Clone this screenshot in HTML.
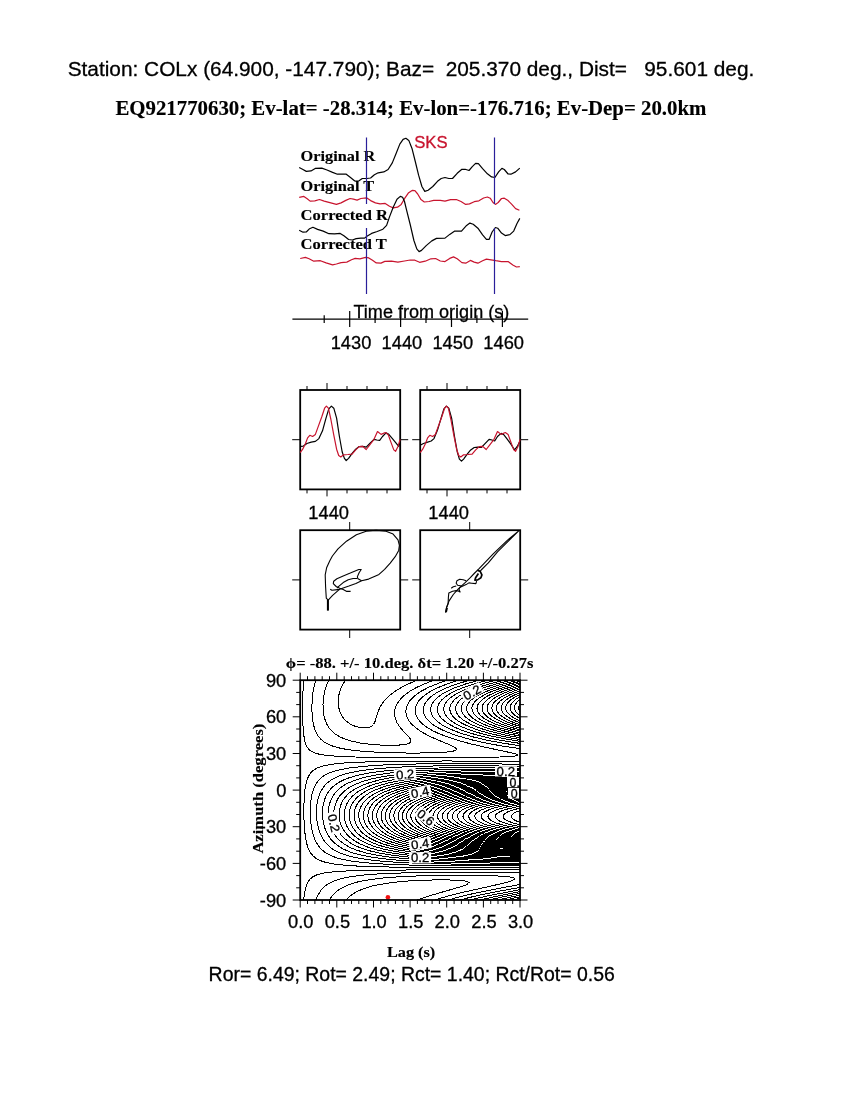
<!DOCTYPE html><html><head><meta charset="utf-8"><title>Shear-wave splitting COLx</title><style>html,body{margin:0;padding:0;background:#fff}svg{display:block}text{white-space:pre}</style></head><body>
<svg width="850" height="1100" viewBox="0 0 850 1100">
<rect width="850" height="1100" fill="#fff"/>
<text x="67.7" y="76.1" font-size="20.83" font-family="'Liberation Sans',sans-serif" stroke="#000" stroke-width="0.3" xml:space="preserve" >Station: COLx (64.900, -147.790); Baz=  205.370 deg., Dist=   95.601 deg.</text>
<text x="115.4" y="115.2" font-size="20.83" font-family="'Liberation Serif',serif" font-weight="bold" stroke="#000" stroke-width="0.15" xml:space="preserve" >EQ921770630; Ev-lat= -28.314; Ev-lon=-176.716; Ev-Dep= 20.0km</text>
<g id="seis">
<text x="300.6" y="161" font-size="15" font-family="'Liberation Serif',serif" font-weight="bold" textLength="74.8" lengthAdjust="spacingAndGlyphs" stroke="#000" stroke-width="0.15" xml:space="preserve" >Original R</text>
<text x="300.6" y="191.2" font-size="15" font-family="'Liberation Serif',serif" font-weight="bold" textLength="73.6" lengthAdjust="spacingAndGlyphs" stroke="#000" stroke-width="0.15" xml:space="preserve" >Original T</text>
<text x="300.6" y="219.6" font-size="15" font-family="'Liberation Serif',serif" font-weight="bold" textLength="87.4" lengthAdjust="spacingAndGlyphs" stroke="#000" stroke-width="0.15" xml:space="preserve" >Corrected R</text>
<text x="300.6" y="249.4" font-size="15" font-family="'Liberation Serif',serif" font-weight="bold" textLength="86.2" lengthAdjust="spacingAndGlyphs" stroke="#000" stroke-width="0.15" xml:space="preserve" >Corrected T</text>
<path d="M299.2 167.5l3.3 1.8 3.8 2.1 4.7-0.5 4.2-2.5 6.6-0.3 5.2 1.9 5.6 2.4 4.8 1.8 8.9 0 4.2 3.3 4.3 3.5 4.2-0.2 3.3-2.3 4.6 0 3.7-0.5 3.8-3.3 3.8-1.9 5.6-0.9 4.3-2.4 4.2-6.6 3.8-9.4 3.7-9.4 3.3-4.7 2.8-1.1 2.9 2.1 3.3 8.4 3.3 13.2 3.2 13.2 3.3 11.3 2.9 4.9 3.3-1.2 4.7-3.7 4.7-5.2 3.7-2.8 3.8-1 3.8 1 3.7 0 4.7-5.2 4.7-4 3.3 0 3.8 1.2 3.3-3.8 3.3-3.3 2.8 0.3 4.2 4.9 4.8 5.2 4.2 3.1 3.3 0.6 3.7-5.6 3.3-3.5 2.4 1.1 3.8 4.5 2.8 0.2 4.7-2.3 4.2-3.8" fill="none" stroke="#000" stroke-width="1.2" stroke-linejoin="round" />
<path d="M299.2 197.3l4.7-0.9 3.3 2.3 2.9 2.4 4.7-0.3 4.7-1.3 4.7 1.6 6.6 1.8 5.6 1.5 4.7-1.5 4.7-2.5 4.3-1.9 3.3 0.7 3.7 0.9 3.8-1.6 5.6-0.7 4.1 2.8 4.8 2.3 4.7 1 5.1-0.5 4.3 2.8 3.7 1.7 4.3-0.7 3.7-2.8 3.3-5.7 3.8-5.6 3.8-2.7 2.8 0.3 2.8 3.3 3.3 5.6 3.3 2.4 4.7-0.5 4.7-1.1 6.6 0 4.7 0.7 5.6-1.5 5.7-0.1 4.7 2 4.7 2.9 3.8-0.5 4.7-2.2 4.7-0.9 4.7-2.8 3.8-1 2.8 1.2 2.8 4.3 2.4 1.9 2.8-1.9 3.3-4 2.8-0.3 3.8 2.4 3.7 3.8 3.8 4.2 3.8 1.6" fill="none" stroke="#c8142e" stroke-width="1.2" stroke-linejoin="round" />
<path d="M299.2 230.3l3.8 1.9 3.3-0.2 3.3-3.3 3.3-1.4 4.7 2.1 5.6 1.7 5.7 2.6 5.6 0.2 5.7-0.5 3.7 2.4 4.7 3.7 3.8 0.5 3.8-1.4 4.7-0.5 3.7 0 2.3-1.9 4.7-2.8 5.6-1.9 5.7-2.3 3.7-3.8 2.9-8.5 3.7-9.6 3.8-8.1 3.3-2.8 2.3 0.9 1.9 4.2 1.9 7.8 3.8 15.2 3.7 16 2.9 8.4 2.3 2.7 2.4-1.2 4.7-4.8 5.6-4.7 4.7-2.5 8.5-0.3 4.7-3.7 4.7-3.2 7.1-0.1 5.1-5.7 3.3-2.3 3.3 1.2 4.7 3.9 4.7 6.6 3.8 4.5 2.8 0 2.9-7.3 3.3-4.5 2.3 0.7 3.8 4.9 3.7 2.5 4.7-1 3.8-3.5 3.3-7.6 2.8-5.1" fill="none" stroke="#000" stroke-width="1.2" stroke-linejoin="round" />
<path d="M300.2 258.5l5.2-1.1 3.7 1.4 4.7 2.4 6.6-0.5 5.7 2.2 6.5 1.9 3.8-0.8 4.7-1.4 5.7-0.5 4.7-2.3 3.7-1.4 4.7 0.4 5.7-1.4 3.2 0.5 3.7 2.3 3.8 2.7 4.7 0.2 3.8-1.7 6.6-0.2 6.5 0.9 6.6-1.1 5.7-1 4.7 0.2 4.7 2.1 5.6-1.1 5.7-2.4 4.7-0.3 4.7 2.5 4.7 0.6 4.7-3.2 3.8-1.5 3.7 1.9 4.7 3.8 3.8 0.6 4.7-2.8 3.8 1.7 3.7 1.1 4.7-2.5 3.8-1.6 4.7 0.7 4.7 0.9 5.7 0.9 6.6 0 4.7 3.3 3.7 2.1 3.3-0.4" fill="none" stroke="#c8142e" stroke-width="1.2" stroke-linejoin="round" />
<path d="M366.5 137.5V204M366.5 228V294" stroke="#2a1f9a" stroke-width="1.2" fill="none"/>
<path d="M494.5 137.5V204M494.5 228V294" stroke="#2a1f9a" stroke-width="1.2" fill="none"/>
<text x="414.2" y="147.9" font-size="16.67" font-family="'Liberation Sans',sans-serif" fill="#c8142e" stroke="#c8142e" stroke-width="0.3" xml:space="preserve" >SKS</text>
<text x="353.5" y="317.6" font-size="18.06" font-family="'Liberation Sans',sans-serif" stroke="#000" stroke-width="0.3" xml:space="preserve" >Time from origin (s)</text>
<path d="M292.4 319.1H528.2M349.7 311V327M400.6 311V327M451.5 311V327M502.4 311V327M324.2 315.3V323M375.1 315.3V323M426.0 315.3V323M476.9 315.3V323" stroke="#000" stroke-width="1.2" fill="none"/>
<text x="351.0" y="349.1" font-size="18.3" font-family="'Liberation Sans',sans-serif" text-anchor="middle" stroke="#000" stroke-width="0.3" xml:space="preserve" >1430</text>
<text x="401.9" y="349.1" font-size="18.3" font-family="'Liberation Sans',sans-serif" text-anchor="middle" stroke="#000" stroke-width="0.3" xml:space="preserve" >1440</text>
<text x="452.8" y="349.1" font-size="18.3" font-family="'Liberation Sans',sans-serif" text-anchor="middle" stroke="#000" stroke-width="0.3" xml:space="preserve" >1450</text>
<text x="503.7" y="349.1" font-size="18.3" font-family="'Liberation Sans',sans-serif" text-anchor="middle" stroke="#000" stroke-width="0.3" xml:space="preserve" >1460</text>
</g>
<g id="panels">
<rect x="300.2" y="390" width="100.0" height="99.39999999999998" fill="none" stroke="#000" stroke-width="1.8"/>
<rect x="300.2" y="530.2" width="100.0" height="99.39999999999998" fill="none" stroke="#000" stroke-width="1.8"/>
<text x="328.7" y="519" font-size="18.3" font-family="'Liberation Sans',sans-serif" text-anchor="middle" stroke="#000" stroke-width="0.3" xml:space="preserve" >1440</text>
<rect x="420.2" y="390" width="100.00000000000006" height="99.39999999999998" fill="none" stroke="#000" stroke-width="1.8"/>
<rect x="420.2" y="530.2" width="100.00000000000006" height="99.39999999999998" fill="none" stroke="#000" stroke-width="1.8"/>
<text x="448.7" y="519" font-size="18.3" font-family="'Liberation Sans',sans-serif" text-anchor="middle" stroke="#000" stroke-width="0.3" xml:space="preserve" >1440</text>
<path d="M307.0 386.0V390M307.0 489.4V493.4M327.0 383.0V390M327.0 489.4V496.4M347.0 386.0V390M347.0 489.4V493.4M367.0 386.0V390M367.0 489.4V493.4M387.0 386.0V390M387.0 489.4V493.4M292.2 439.7H300.2M400.2 439.7H408.2M292.2 579.9H300.2M400.2 579.9H408.2M349.7 522V530.2M349.7 629.6V638M427.0 386.0V390M427.0 489.4V493.4M447.0 383.0V390M447.0 489.4V496.4M467.0 386.0V390M467.0 489.4V493.4M487.0 386.0V390M487.0 489.4V493.4M507.0 386.0V390M507.0 489.4V493.4M412.2 439.7H420.2M520.2 439.7H528.2M412.2 579.9H420.2M520.2 579.9H528.2M469.7 522V530.2M469.7 629.6V638" stroke="#000" stroke-width="1" fill="none"/>
<path d="M300.2 446.4l3.2-0.3 3.5-2.6 4.3-1.4 4.2-0.7 3.5-2.8 3.6-7.8 3.5-12.7 2.8-9.2 2.6-2.8 2.4 2.1 2.8 9.9 2.8 18.4 2.8 15.5 2.2 6.4 1.8 2.1 2.4-2.1 3.5-5 3.6-4.2 3.5-2.6 3.5-0.2 3.5 0.7 3.6-3.6 4.2-4.2 2.8 0.7 2.9 0.4 2.8-3.9 3.5-3.6 2.8 1.5 3.6 4.2 3.5 4.2 2.8 3.6 1.4-4.3" fill="none" stroke="#000" stroke-width="1.2" stroke-linejoin="round" />
<path d="M300.2 452.7l2.5-3.5 2.8-5.7 2.1-5.6 2.2-2.6 2.8 1.2 2.8-2.1 2.8-7.8 3.6-9.9 2.8-8.5 1.8-2.1 2 2.1 2.5 11.3 2.9 15.6 2.8 14.1 2.1 6.3 2.1 1.4 2.8-2.1 4.3-0.3 4.2-0.4 3.6-4.2 3.5-3.3 3.5-0.2 3.5 3.1 3.6-4.6 4.2-5.6 3.5-7.8 3.6 2.9 4.2-1.9 2.8 1.9 2.8 7.7 2.9 7.8 1.8 1.4 2.4-4.9 2.1-7.1" fill="none" stroke="#c8142e" stroke-width="1.2" stroke-linejoin="round" />
<path d="M420.2 445.2l3.2-1.7 3.5-1.1 4.3-1.4 2.8-2.4 3.5-8.5 3.6-12 2.8-9.2 2.5-2.8 2.4 2.1 2.8 9.9 2.9 18.4 2.8 15.5 2.1 7.1 2.1 2.1 2.1-2.1 3.6-5 3.5-4.2 3.5-2.4 3.6-0.4 3.5 0.4 3.5-3.7 4.3-4.5 2.8 0.7 2.8 1 2.8-4.5 3.6-3.1 2.8 1.4 3.5 4.5 3.5 4.9 3.6 5.7 2.8-3.5 2.8-5.7" fill="none" stroke="#000" stroke-width="1.2" stroke-linejoin="round" />
<path d="M420.2 452.7l2.5-3.5 2.8-5.7 2.1-5.6 2.2-2.6 2.8 1.2 2.8-2.1 2.8-7.8 3.6-9.9 2.8-8.5 1.8-2.1 2 2.1 2.5 11.3 2.9 15.6 2.8 14.1 2.1 6.3 2.1 1.4 2.8-2.1 4.3-0.3 4.2-0.4 3.6-4.2 3.5-3.3 3.5-0.2 3.5 3.1 3.6-4.6 4.2-5.6 3.5-7.8 3.6 2.9 4.2-1.9 2.8 1.9 2.8 7.7 2.9 7.8 1.8 1.4 2.4-4.9 2.1-7.1" fill="none" stroke="#c8142e" stroke-width="1.2" stroke-linejoin="round" />
<path d="M327.9 610.5l0-10.6-1.6-1.8-0.4-6.1-0.3-5.2-0.4-12 1.4-7 3.2-7.1 2.6-4.7 5.6-7.1 8.5-7.7 9.9-6.4 9.8-3.5 9.9-0.9 9.9 0.9 7.1 2.8 4.9 5.7 1.4 5.6-0.7 5-3.5 6.3-5 6.4-5.6 6.3-5.6 5-4 1.8-6.4 2.9-7 1.7-5.7 2.8-7 2.5-5.7 1.8-3.5 1.4-2.1 0.3-5.7 0.7-1.7-1" fill="none" stroke="#000" stroke-width="1.1" stroke-linejoin="round" />
<path d="M361.6 580.8l-3.6-2.1-0.7-1.8 1.8-4.2 2.1-3.2-2.4 0-8.5 3.6-7.1 2.8-6.3 2.8-3.2 2.5-0.4 2.4 2.9 2.9 3.5 1.7 3.5 1.4 3.6 1.8 3.8 0" fill="none" stroke="#000" stroke-width="1.1" stroke-linejoin="round" />
<path d="M357.3 578.5l-4.2 0-4.9 1.3-5 2.8-4.2 3.5-2.1 2.1" fill="none" stroke="#000" stroke-width="1.1" stroke-linejoin="round" />
<path d="M327.9 599.9l1.2-0.7 3.5-3.9 5.7-5 1.4-1" fill="none" stroke="#000" stroke-width="1.1" stroke-linejoin="round" />
<path d="M327.9 610.5l0-10.6" fill="none" stroke="#000" stroke-width="2" stroke-linejoin="round" />
<path d="M445.6 612.2l1-5 2.5-6.3 4.2-6.4 5-5.6 6.3-5.7 5.7-5.6 3.9-4.1 4.9-4.9 14.1-14.8 14.1-13.5 11.4-9.4-21.2 20.9-9.2 11.1-7.1 7.1-1 1.4" fill="none" stroke="#000" stroke-width="1.1" stroke-linejoin="round" />
<path d="M476.6 581.1l-0.7 2.5-4.2-0.4-2.8-0.3-2.8 1.7-4.3 1.8-2.1 1.1-0.7 2.1 1.1 2.4-1.8-1-2.1-0.4-3.6 0.7-3.8 1.8-0.4 4.2-0.3 6.4-1.5 3.9-1 4.6 1-0.7 0.8-3.6" fill="none" stroke="#000" stroke-width="1.1" stroke-linejoin="round" />
<path d="M466.1 580.8l-2.9-1.1-3.5-0.4-2.8 1.5-0.7 2.4 1.4 2.1 4.2 0.7" fill="none" stroke="#000" stroke-width="1.1" stroke-linejoin="round" />
<path d="M451.2 588.2l2.1-1.4 2.9-0.8" fill="none" stroke="#000" stroke-width="1.1" stroke-linejoin="round" />
<path d="M477.4 570.3l2.8 1.1 1.7 3.5-1 2.9-3.2 2.1-2.8 0.3 0.7-2.4 2.8-4.3" fill="none" stroke="#000" stroke-width="1.7" stroke-linejoin="round" />
</g>
<g id="map">
<path shape-rendering="crispEdges" fill="none" stroke="#000" stroke-width="1" d="M346 680l-2.7 3.5-1.9 3.5-1.5 4-1 4-0.6 4.5 0 4.5 0.6 4.1 1.2 3.9 1.6 3.5 2 3 2.7 2.8 3 2.2 3.5 1.9 3.5 1.3 4 1 4 0.3 2.9-0.2 2.5-0.6 2-1.1 1.7-1.6 0.8-1.4 0.7-1.6 2.7-9 2.4-5.5 1.8-3 1.8-2.5 2.6-3 2.6-2.5 5.8-4.5 6.5-4 7.6-3.8 8.8-3.7M417.6 900l7.6-2.7 8-2.6 28.4-8.2 4.2-1.5 2.7-1.5 0.4-0.5 0.1-0.5-0.6-0.5-1.3-0.5-3.5-0.7-9.5-0.7-12.9-0.3-18.5 0.4-17.9 1-15.5 1.7-12.6 2.1-4.9 1.1-5 1.5-4.4 1.6-4.3 1.8-3.7 2-3 2-3 2.5-2.4 2.5M329.2 680l-1.6 3-1.2 2.8-1 3.2-1 3.5-0.6 3.5-0.5 4-0.3 4 0.1 4 0.2 3.5 0.5 3.5 0.7 3 1 3 1 2.5 1.3 2.5 1.6 2.4 1.8 2.1 1.7 1.7 2.2 1.8 4.8 2.9 5.5 2.4 6.5 1.9 8.5 1.8 8.9 1.2 10.5 0.8 10.5 0.3 8.5-0.2 6.5-0.8 2-0.4 2-0.7 1-0.7 0.6-1 0-1.5-1.2-2-7.4-8-3.2-4-2.2-3.5-1.4-3.5-0.5-2-0.4-2.5 0.2-4 0.5-2.5 0.7-2 2.3-4 2.3-3 3-3 3.8-3 4.3-2.9 4.8-2.6 5.7-2.7 6-2.4 6.6-2.4M434.8 900l10.9-3.3 12.9-3.4 45.9-10.3 6.7-2 3-1.5 0.4-0.5 0-0.5-0.6-0.5-1.3-0.5-3.2-0.6-5.5-0.6-16.9-0.9-26-0.3-31.6 0.4-26.7 1-11.5 0.8-10 0.9-9 1.1-7.9 1.3-6.8 1.4-5.7 1.6-5.1 1.9-4.9 2.4-4 2.5-3.1 2.6-2.9 3.1-2.7 3.9M315.8 680l-1.2 4-1 4.5-0.8 5-0.5 5-0.3 5.4-0.1 5.1 0.2 5 0.5 5 0.6 4 0.8 3.5 1 3.1 1.2 2.9 1.3 2.5 1.8 2.5 1.8 2 2.4 2 2.2 1.5 2.7 1.4 6 2.3 7.5 1.9 9.5 1.5 12.5 1.3 14.4 0.9 17.5 0.6 18.4 0.2 18-0.3 13.5-0.7 5-0.5 2.9-0.6 1.6-0.5 0.9-0.5 0.3-0.5 0.1-0.5-0.8-1-2.4-1.5-4.4-2-12.7-5.3-6.5-2.9-6.5-3.5-5.5-3.5-4.6-3.8-2-2-1.6-2-1.3-2-1-2-0.7-2-0.5-2.5 0-2.5 0.3-2.5 0.8-2.5 1-2 1.6-2.5 1.7-2 2-2 2.3-2 5.9-4 7.7-4 8.9-3.6 10-3.4M520 872.5l-22.9-0.4-28 0-28.9 0.1-25.5 0.4-19.4 0.6-16.5 0.7-13.4 1-10.5 1.2-8.5 1.3-7 1.7-6 2.1-5 2.5-4 2.9-2 1.9-1.6 2-2.8 4.5-2.2 5M448.2 900l11.9-3.3 14.5-3.4 15-3.1 30.4-5.8M303.7 680l-0.8 12.5-0.4 15.5 0.3 14.5 0.7 11 1.2 7 0.8 2.9 0.8 2.1 1.2 2 1.1 1.5 1.4 1.3 1.7 1.2 2 1 2.3 0.9 5.5 1.3 7.9 1 10.5 0.7 15 0.6 19.9 0.4 56.9 0.3 41.4-0.2 26.8-0.5 10.1-0.5 4.5-0.4 3.2-0.6 0.3-0.5-0.7-0.5-1.3-0.5-3.9-1-27-5.8-15-3.5-12.5-3.4-9.4-3.1-10-3.9-4.5-2.1-4-2.2-3.5-2.2-3-2.3-2.5-2.3-1.9-2.2-1.7-2.5-1.3-3-0.5-2.5 0-3 0.7-3 1.1-2.5 2-3 2.3-2.5 2.9-2.5 3.6-2.5 3.8-2.3 4.5-2.3 5-2.1 5.5-2.1 6-2.1 7.1-2.1M520 869.7l-84.3 0.1-57.9 0.4-31.7 0.8-10.7 0.7-8 0.8-5.9 1-5 1.5-3.9 2-1.6 1.3-1.2 1.2-1.2 1.5-1.1 2-1.6 4-1.3 5.5-0.9 7.5M459.8 900l10.8-2.8 13-2.9 15.4-3.1 21-3.8M520 748.6l-17-2.4-16.9-3.1-15-3.4-14-4-5.9-2.1-5-1.9-4.5-2.1-4.1-2.1-3.4-2.1-3.3-2.4-2.7-2.5-2.1-2.5-1.5-2.5-1-2.5-0.3-2.5 0.2-3 1-3 1.5-2.5 2-2.5 2.6-2.5 3.1-2.3 3.4-2.2 4.1-2.2 4.9-2.3 5.1-2 5.9-2.1 13.2-3.9M520 867.7l-87.3-0.2-32.4-0.3-24.5-0.4-17.9-0.7-13.5-0.9-10.5-1.2-8-1.6-3.5-1-2.9-1.2-2.5-1.3-2.1-1.4-1.9-1.7-1.6-1.8-1.6-2.5-1.3-2.5-1.1-3-0.9-3.4-1.4-8.1-1-11-0.3-12.5 0.3-11.5 0.8-9.5 1.4-7.5 0.9-3 1-2.5 1.3-2.4 1.5-2 1.6-1.6 1.9-1.4 2-1.2 2.5-1.1 5.9-1.8 8.5-1.4 12-1.2 16-0.8 20.9-0.6 29.4-0.4 35.5-0.1 34.9 0.1 37.9 0.5M470.3 900l9.3-2.3 11.5-2.5 28.9-5.5M520 745.7l-17-2.5-15.9-3-14.5-3.4-12-3.6-9.9-3.9-4.5-2.1-3.9-2.2-3.1-2.1-2.9-2.4-2.1-2.2-1.7-2.3-1.2-2.5-0.6-2.5-0.1-2.5 0.6-2.5 1.1-2.5 1.7-2.5 2.3-2.5 2.4-2 3.5-2.4 3.5-2.1 4.5-2.2 4.9-2.1 11-3.9 13.8-3.8M520 865.9l-36.9 0.1-34.9-0.3-29.5-0.4-23.4-0.7-18.5-0.9-14.9-1.3-12-1.5-9.5-2-4-1.2-4-1.4-3-1.4-3-1.6-2.5-1.8-2.4-2.2-2.2-2.3-1.8-2.5-1.7-3-1.3-3-1.3-3.5-1-4-0.9-4.5-0.5-4.5-0.4-5-0.2-5 0.2-5 0.3-4.5 0.5-4 0.8-4 0.9-3.5 1.1-3 1.5-3 1.5-2.5 2-2.5 2-1.9 2.4-2 2.5-1.5 3-1.5 3-1.1 4-1.3 4-1 10.5-1.9 13.5-1.5 16.4-1.2 21-0.8 24.9-0.5 27.9-0.2 28.5 0.1 37.4 0.6M479.9 900l17.2-3.9 22.9-4.4M520 743.4l-16.5-2.6-14.9-2.9-13.5-3.4-11.5-3.6-4.8-1.9-4.5-2-3.8-2-3.3-2-3-2.2-2.5-2.3-1.7-2-1.5-2.5-0.8-2-0.3-2.5 0.2-2.5 0.9-2.5 1.5-2.5 1.6-2 2.6-2.3 2.9-2.2 3.2-2 3.8-2.1 4.3-1.9 5.2-2.1 11.5-3.8 13.7-3.6M520 864.4l-33.4 0-31-0.3-26.4-0.5-22.9-0.8-18-1.1-15-1.3-12.4-1.8-10.3-2.1-8.2-2.6-3.5-1.4-3.5-1.8-3-1.8-3-2.3-2.2-2.1-2.2-2.5-2-3-1.7-3-1.5-3.5-1.1-3.5-1-4-0.7-4-0.4-4-0.1-4.5 0.1-4 0.4-4 0.7-4 0.9-3.5 1.3-3.5 1.5-3 1.5-2.6 1.9-2.4 2.1-2.2 2.5-2.1 2.6-1.7 2.9-1.6 3.5-1.6 3.5-1.3 4.5-1.4 4.5-1.1 11.5-2.1 13.4-1.6 16-1.3 19.4-0.9 22-0.6 24.9-0.2 25.5 0 36.4 0.5M488.8 900l14.2-3.2 17-3.3M520 741.4l-15.5-2.6-14.4-3-12.5-3.3-10.5-3.5-4.9-2-4.1-2-3.6-2-3-2-2.4-2-2-2-1.5-2-1.2-2.5-0.5-2-0.1-2.5 0.6-2.5 1-2 1.8-2.5 1.9-2 2.4-2 3-2 3.5-2 4-2 9.6-3.8 11.8-3.7 13.8-3.5M520 863l-30.4 0-28.5-0.3-24.9-0.6-21.5-0.9-17.4-1.1-15-1.5-12.5-1.7-10.4-2.2-4.5-1.2-4.6-1.5-3.7-1.5-3.7-1.7-3.1-1.8-2.9-2-2.5-2.1-2.4-2.4-2.1-2.5-1.9-3-1.6-3-1.4-3.5-1.1-3.5-0.8-4-0.4-3.5-0.2-4 0.1-4 0.4-3.5 0.8-3.5 1-3.5 1.3-3 1.6-3 1.8-2.5 1.9-2.3 2.4-2.2 2.6-2 3-1.9 3-1.6 3.5-1.6 4-1.4 9.5-2.6 11.4-2.2 13.5-1.7 15.5-1.4 18.4-1 20.5-0.6 22.4-0.3 24 0 34.9 0.4M497.2 900l22.8-4.8M520 739.5l-15-2.6-13.4-3-11.5-3.2-10-3.6-7.7-3.6-3.4-2-2.8-2-2.2-2-1.7-2-1.3-2-0.9-2.5-0.3-2 0.3-2.5 0.8-2 1.2-2 1.6-2 2.1-2 2.7-2 3.6-2.3 3.4-1.7 4.3-2 9.4-3.5 11.7-3.5 14.2-3.5M520 861.7l-28.4-0.1-27-0.3-23.4-0.7-20.5-0.9-16.9-1.2-14.5-1.4-12.5-1.9-10.6-2.2-9.3-2.8-4-1.5-3.5-1.6-3-1.7-3-1.9-2.6-2-2.7-2.5-2.2-2.5-2.2-3-1.6-3-1.4-3-1-3-0.8-3.5-0.5-3.5-0.2-3.5 0.2-3.5 0.4-3.5 0.9-3.5 1-3 1.5-3 1.5-2.5 1.9-2.5 2.3-2.5 2.3-2 2.8-2 2.9-1.8 3.5-1.7 7.6-3 9.3-2.6 11.5-2.2 13-1.8 15.5-1.4 17.4-1.1 19-0.7 21.4-0.3 22.5-0.1 33.4 0.3M505.1 900l14.9-3.2M520 737.8l-14-2.6-12.4-3-11.1-3.2-9.2-3.5-6.9-3.5-3.1-2-2.6-2-2-2-1.5-2-1-2-0.5-2 0-2 0.4-2 0.8-2 1.4-2 1.8-2 2.3-2 2.9-2 3.4-2 7.6-3.5 9.8-3.5 11.9-3.5 14.5-3.5M520 860.5l-26.9-0.1-25-0.4-22.4-0.7-19.5-0.9-16.4-1.2-14.5-1.6-12.5-1.9-10.6-2.2-8.8-2.6-4-1.5-4-1.8-3.5-1.8-3-1.9-3-2.3-2.4-2.1-2.3-2.5-1.8-2.5-1.6-2.5-1.5-3-1.1-3-0.8-3.5-0.5-3-0.1-3.5 0.2-3.5 0.5-3 0.8-3 1.2-3 1.5-3 1.7-2.5 2.2-2.5 2-2 2.5-2 2.9-2 3.1-1.7 3.6-1.8 8.1-3 9.2-2.5 11-2.1 13-1.8 14.4-1.5 17-1.1 18-0.7 19.9-0.4 21-0.1 32.4 0.2M512.5 900l7.5-1.6M520 736.1l-13.1-2.6-11.8-3-10-3.1-8.5-3.4-6.4-3.5-2.9-2-2.2-2-1.8-2-1.2-2-0.7-2-0.2-2 0.3-2 0.7-2 1.3-2 1.2-1.5 2.2-2 2.7-2 6.1-3.5 8.1-3.5 9.8-3.3 11.4-3.3 14.4-3.4M520 859.3l-25.4-0.1-24-0.4-20.9-0.7-19-1-16.5-1.3-13.9-1.6-12-1.8-10.5-2.2-9.1-2.7-7.8-3.2-3.5-1.8-3-1.8-3-2.1-2.4-2.1-2.1-2.1-2-2.5-1.6-2.4-1.6-3-1.2-3-0.8-3-0.5-3-0.1-3 0.2-3 0.5-3 0.8-3 1-2.5 1.6-3 1.7-2.4 2-2.3 2.4-2.3 2.6-2 3-2 6.5-3.3 7.9-3 9.5-2.6 11-2.2 12.5-1.8 14.4-1.4 16-1.1 17.5-0.8 18.9-0.4 50.9-0.1M519.4 900l0.6-0.1M520 734.5l-12-2.6-10.4-2.7-9-2.9-7.8-3.3-3.2-1.7-3-1.8-2.5-1.8-1.8-1.7-1.4-1.5-1.2-2-0.8-2-0.3-2 0.3-2 0.7-2 1.3-2 1.3-1.5 1.9-1.8 2.3-1.7 6.1-3.5 7.6-3.3 9-3.2 10.4-3 12.5-3.1M520 858.2l-24.4-0.1-22.5-0.5-20.4-0.7-18-1-15.5-1.3-13.4-1.5-12-1.9-10.5-2.2-8.8-2.5-7.8-3-3.3-1.6-3.3-1.9-3-2-2.5-2-2.2-2.1-2.1-2.4-1.8-2.5-1.5-2.5-1.1-2.5-0.9-3-0.6-3-0.2-3 0.2-3 0.4-2.5 0.9-3 1-2.5 1.4-2.5 1.8-2.5 2-2.3 2.4-2.2 2.5-2 3.1-2 6.4-3.3 8-3 9.5-2.6 11-2.2 12-1.8 13.4-1.4 15.5-1.2 16.5-0.8 18.4-0.4 49.4-0.3M520 732.9l-10.5-2.4-9.5-2.6-8.4-2.9-6.9-3-5.2-3-2.4-1.8-1.8-1.7-1.3-1.5-1.2-2-0.6-1.5-0.3-2 0.2-2 0.6-1.5 1.1-2 1.2-1.5 2.1-1.9 2-1.6 5-3 6.4-3 8-3 9.6-3 11.9-3.1M520 857.2l-23.4-0.2-21.5-0.5-19-0.8-17.4-1-15-1.2-13.5-1.6-11.4-1.8-10.5-2.2-9-2.5-8-3.1-6.4-3.4-3-1.9-2.5-2-2.2-2-2.3-2.5-1.8-2.5-1.4-2.5-1.1-2.5-0.7-2.5-0.5-2.5-0.2-3 0.2-3 0.5-2.5 0.8-2.5 1.1-2.5 1.5-2.5 1.6-2.1 2.2-2.4 2.3-2 2.6-2 2.9-1.8 6.4-3.2 8-3 9.5-2.6 10.5-2.2 11.9-1.8 13.5-1.4 14.5-1.1 15.4-0.8 17.5-0.5 47.9-0.4M520 731.3l-9.5-2.3-8.4-2.5-7-2.5-6.6-3-4.9-3-3.5-3-1.2-1.5-0.9-1.5-0.6-1.5-0.4-2 0.3-2 0.5-1.5 0.8-1.5 1.2-1.5 3.2-3 4.6-3 6.1-3 7.6-3 8.7-2.8 10-2.8M520 856.1l-22.4-0.2-20.5-0.5-18.5-0.8-16.9-1-15-1.3-13-1.6-11.4-1.8-10-2.2-9-2.6-7.5-2.9-6.5-3.3-2.9-1.9-2.6-2-2.2-2-2.2-2.5-1.5-2-1.4-2.5-1.1-2.5-0.8-2.5-0.4-2.5-0.1-2.5 0.1-2.5 0.5-2.5 0.9-2.5 1.1-2.5 1.6-2.5 1.6-2 2-2 2.5-2.2 2.5-1.8 2.9-1.8 6.5-3.2 8.3-3 9.2-2.5 10-2 11.4-1.8 13-1.4 14.5-1.2 14.9-0.8 17-0.5 45.4-0.5M520 729.7l-8.4-2.2-7.9-2.5-6.6-2.6-5.8-2.9-3.7-2.5-3.2-3-1.1-1.5-0.7-1.5-0.4-1.5-0.1-1.5 0.2-1.5 0.5-1.5 0.8-1.5 1.2-1.5 3.3-3 3.8-2.5 5.7-2.9 6.4-2.6 7.2-2.5 8.8-2.6M520 855.1l-21.5-0.2-19.4-0.6-17.5-0.7-15.9-1-14.5-1.3-12.5-1.5-11.4-1.8-10-2.2-9-2.5-7.5-2.8-6.5-3.2-2.9-1.8-2.6-1.9-2.4-2.1-1.9-2-1.6-2-1.6-2.5-0.9-2-0.9-2.5-0.5-2.5-0.2-2.5 0.1-2.5 0.5-2.5 0.9-2.5 0.9-2 1.6-2.5 1.6-2 1.9-2 2.4-2 5.2-3.5 6.9-3.4 8-2.9 9-2.5 10-2 10.9-1.7 12.5-1.5 14-1.1 14.4-0.9 16.5-0.5 43.9-0.6M520 728.1l-7.5-2.2-7.1-2.4-5.8-2.5-4.5-2.5-3.6-2.5-2.5-2.5-1.5-2.5-0.4-1.5-0.1-1.5 0.2-1.5 0.5-1.5 1.6-2.5 2.5-2.5 3.5-2.5 4.5-2.5 5.6-2.5 6.6-2.5 8-2.6M520 854.2l-20.5-0.3-18.9-0.6-17-0.8-15.4-1-14-1.3-12.5-1.5-11-1.8-9.4-2.1-9-2.5-7.5-2.8-6.1-3-5.3-3.5-2.4-2-1.9-2-1.7-2-1.3-2-1-2-1-2.5-0.5-2.5-0.2-2.5 0.2-2.5 0.5-2.5 1-2.5 1-2 1.4-2 1.6-2 2.1-2 2.4-2 5.5-3.5 6.3-3 7.4-2.7 9-2.4 9.4-2 11-1.8 12-1.4 13.5-1.1 13.9-0.9 15.5-0.6 42.9-0.6M520 726.4l-7-2.2-5.8-2.2-4.7-2.2-3.9-2.3-2.7-2-2.3-2.5-1.4-2.5-0.4-2.5 0.4-2.5 1.5-2.5 2.4-2.5 2.6-2 4.1-2.5 4.7-2.3 5.5-2.2 7-2.5M520 853.2l-20-0.3-17.9-0.6-16.5-0.8-14.9-1-13.5-1.3-12-1.5-11-1.9-9.4-2-8.5-2.4-7.6-2.9-6.1-3-5.3-3.5-2.3-2-2-2-1.5-2-1.3-2-1-2-0.7-2-0.4-2-0.2-2.5 0.2-2.5 0.5-2 0.7-2 1-2.1 1.3-1.9 1.7-2.1 2-1.9 2.4-2 5.5-3.5 6.3-3 7.8-2.8 8.5-2.3 9.4-2 10.5-1.7 11.5-1.4 13-1.1 13.4-0.8 15-0.7 41.4-0.7M520 724.7l-5.5-1.9-5-2.1-4.3-2.2-3.1-2-2.4-2-1.7-2-1.1-2-0.4-2.5 0.4-2.5 1.1-2 2.2-2.5 2.5-2 3.1-2 3.8-2 4.5-2 5.9-2.3M520 852.3l-19-0.4-17.4-0.6-16-0.8-14.4-1-13-1.3-11.5-1.5-10.5-1.7-9.4-2.1-8.5-2.4-7-2.6-6.1-2.9-5.5-3.5-3.9-3.5-1.7-2-1.3-2-1.1-2-0.7-2-0.5-2-0.1-2.5 0.2-2.5 0.5-2 0.8-2 1.1-2 1.4-2 1.8-2 4.1-3.5 5-3.1 6.1-2.9 7.4-2.7 8.5-2.3 9.3-2 10.1-1.7 11.5-1.4 12.5-1.1 12.9-0.8 14.5-0.7 39.9-0.8M520 722.8l-4.6-1.8-3.9-1.8-3-1.7-2.8-2-1.7-1.5-1.6-2-1-2-0.3-2 0.3-2 0.9-2 1.5-2 2.2-2 2.8-2 3.2-1.8 8-3.7M520 851.3l-18.5-0.4-16.9-0.6-15-0.8-14-1-12.4-1.3-11.5-1.5-10.2-1.7-9.1-2-8.1-2.3-7.4-2.7-6.1-3-4.8-3-4-3.5-1.7-2-1.3-2-1-2-0.7-2-0.4-2-0.2-2 0.2-2 0.5-2 0.8-2 1.1-2 2.7-3.5 2.2-2 2.1-1.7 5.4-3.3 6.1-2.8 7.5-2.6 7.9-2.2 9-1.9 10-1.7 11-1.3 11.9-1.1 12.5-0.9 14-0.6 38.4-1M520 720.8l-3.5-1.6-3-1.6-2.4-1.6-1.9-1.5-1.4-1.5-1.1-1.5-0.7-1.5-0.4-2 0.2-1.5 0.7-2 1.4-2 1.5-1.5 1.8-1.5 2.8-1.9 6-3.1M520 850.4l-18-0.4-15.9-0.6-14.5-0.8-13.5-1-11.9-1.3-11-1.4-10-1.7-9-2-7.8-2.2-7-2.5-6.3-3-4.8-3-4.1-3.5-2.8-3.5-1.6-3.5-0.5-2-0.2-2 0.1-2 0.4-2 0.8-2 1.1-2 2.8-3.5 4-3.4 5-3.1 6-2.8 7-2.5 7.9-2.2 9-2 9.5-1.6 10.5-1.3 11.9-1.2 12.5-0.8 13.5-0.7 36.9-1M520 718.5l-4.2-2.5-3-2.5-1.9-2.5-0.6-1.5-0.3-1.5 0.1-1 0.4-1.5 0.7-1.5 1.1-1.5 1.5-1.5 1.8-1.5 4.4-2.8M520 849.5l-17.5-0.4-15.4-0.7-14-0.8-13-1-11.9-1.3-10.5-1.4-9.5-1.7-8.5-1.9-8-2.2-6.4-2.3-6-2.8-4.9-3-3.6-3-3-3.5-0.8-1.5-0.9-2-0.5-2-0.2-2 0.1-2 0.5-2 0.8-2 0.8-1.5 1.5-2 1.4-1.5 3.8-3.2 5-3.1 5.9-2.7 7-2.5 7.5-2.1 8.5-1.8 9.1-1.6 10.4-1.4 11.4-1.1 12-0.9 13-0.7 35.9-1.1M520 715.7l-2.7-2.2-1.7-2-0.9-2-0.3-2 0.4-2 1.1-2 1.7-2 2.4-2M520 848.6l-31.4-1.1-13.5-0.8-12.5-1-11.4-1.3-10.4-1.4-9.1-1.6-8.6-1.9-7.4-2.1-6.8-2.4-5.4-2.5-5-3-3.7-3-1.5-1.6-1.4-1.9-0.9-1.5-0.8-2-0.4-1.5-0.2-2 0.2-2 0.3-1.5 0.8-2 0.8-1.5 1.5-2 1.4-1.5 3.6-3 4.9-3 5.7-2.6 6.5-2.4 7.9-2.2 8.2-1.8 8.8-1.5 10-1.4 11.1-1.1 11.3-0.9 13-0.7 34.4-1.1M520 711.5l-1-2-0.3-2 0.4-2 0.9-1.8M520 847.7l-30.4-1.1-13-0.9-12-1-11.1-1.2-10.3-1.5-9-1.6-8-1.8-7.4-2.1-6.1-2.2-5.4-2.5-4.8-2.8-3.7-3-2.5-3-1-1.5-0.8-2-0.4-1.5-0.2-2 0.1-2 0.4-1.5 0.9-2 0.8-1.5 2.6-3 3.6-3 5-3 5.5-2.5 6.4-2.3 7.5-2.1 7.5-1.6 9-1.6 10-1.3 10.4-1.1 11-0.9 12.5-0.7 32.9-1.2M520 846.8l-28.9-1.1-13-0.9-11.5-1-11-1.2-9.4-1.4-9-1.7-7.5-1.7-7-1.9-6.6-2.4-5.4-2.5-4.2-2.5-3.7-3-2.5-3-1.6-3-0.4-1.5-0.2-2 0.2-2 0.4-1.5 1.5-3 2.5-3 3.7-3 4.3-2.6 5.5-2.5 6.7-2.4 7.2-2 7.6-1.7 8.5-1.5 9.4-1.3 10-1 22.5-1.6 31.9-1.3M520 846l-27.9-1.3-12-0.8-11.5-1-10-1.2-9.4-1.4-8.5-1.5-7.9-1.8-7-2-5.6-2-5.5-2.5-4.2-2.5-3.7-3-2.5-3-1.5-3-0.5-3 0.5-3 1.5-3 2.4-3 3.7-3 4.3-2.5 5.5-2.5 5.6-2 7-2 7.4-1.7 8-1.4 8.9-1.3 10.1-1.1 21.9-1.6 30.9-1.4M520 845.1l-26.9-1.3-22.2-1.8-9.8-1.2-9.1-1.3-8.1-1.5-7.7-1.8-6.5-1.8-6-2.2-4.9-2.2-4.3-2.5-3.2-2.5-2.7-3-1.5-3-0.4-1.5-0.1-1.5 0.1-1.5 0.4-1.5 1.5-3 2.7-3 3.2-2.5 4.3-2.5 4.9-2.2 6-2.1 6.5-1.9 7-1.6 8-1.4 8.4-1.2 9.5-1.1 21-1.6 29.9-1.4M520 844.2l-25.9-1.3-21.5-1.8-9-1.1-9-1.4-7.9-1.5-7-1.6-7-2-5.5-2-4.5-2-4.2-2.5-3.2-2.5-2.6-3-1.3-2.5-0.4-1.5-0.1-1.5 0.1-1.5 0.4-1.5 1.3-2.5 2.6-3 3.2-2.5 4.2-2.4 4.7-2.1 5.6-2 6.7-1.9 7-1.6 7.4-1.3 8.1-1.2 9.4-1.1 20-1.6 28.4-1.4M520 843.3l-24.4-1.3-21-1.9-9.2-1.1-8.3-1.3-7.4-1.4-7-1.6-5.8-1.7-5.6-2-4.6-2-4.3-2.5-3.1-2.5-2.3-2.5-1.3-2.5-0.4-1.5-0.1-1.5 0.1-1.5 0.4-1.5 1.4-2.5 2.3-2.5 3.2-2.5 4.1-2.3 4.5-2 5.5-2 6.1-1.7 6.5-1.5 7.3-1.4 7.6-1.1 8.9-1.1 19.5-1.6 27.4-1.5M520 842.4l-23.9-1.4-19.5-1.8-16.5-2.3-7.3-1.4-6.6-1.6-6.5-1.9-5-1.8-4.9-2.2-3.3-2-3.2-2.5-2.2-2.5-1.2-2.5-0.4-2.5 0.4-2.5 1.3-2.5 2.2-2.5 3.3-2.5 3.5-2 4.4-2 5.6-2 5.5-1.6 6.1-1.4 7.3-1.4 16-2.2 19-1.7 25.9-1.5M520 841.5l-22.9-1.4-18.5-1.8-16-2.3-7.5-1.5-6.2-1.5-5.7-1.7-4.9-1.8-4.4-2-3.4-2-2.6-2-2.3-2.5-1.3-2.5-0.4-2.5 0.5-2.5 1.4-2.5 2.3-2.5 2.7-2 3.5-2 4.5-2 4.9-1.7 5.5-1.6 5.9-1.4 6.9-1.3 15.1-2.1 18-1.7 24.9-1.5M520 840.5l-21.5-1.3-17.9-1.8-15.5-2.3-6.5-1.3-5.9-1.5-5.5-1.6-4.8-1.7-4.4-2-3.4-2-2.6-2-2.2-2.5-1-2-0.4-2.5 0.5-2.5 1.1-2 2.3-2.5 2.7-2 3.5-2 4.2-1.8 4.7-1.7 5.3-1.5 11.9-2.6 15-2.1 17-1.6 23.4-1.6M520 839.6l-20.5-1.4-16.9-1.7-14.5-2.3-6.1-1.2-6.2-1.5-5-1.5-4.6-1.7-4-1.8-3.4-2-2.6-2-1.7-2-1.1-2-0.5-2.5 0.6-2.5 1.2-2 1.8-2 2.7-2 3.5-1.9 3.5-1.6 4.2-1.5 5.2-1.6 11.5-2.5 14-2.1 16.5-1.6 22.4-1.6M520 838.7l-19.5-1.5-15.9-1.7-14-2.2-6.2-1.3-5.3-1.3-5.4-1.7-4-1.5-3.5-1.7-3.1-1.8-2.6-2-1.7-2-1-2-0.2-2 0.4-2 1.1-2 1.8-2 2.7-2 3.6-2 3.5-1.5 4.2-1.5 4.7-1.4 11-2.4 13-1.9 15.4-1.7 21-1.6M520 837.7l-18-1.4-15.4-1.8-12.6-2-10.9-2.5-4.9-1.5-4.1-1.5-3.4-1.6-3.3-1.9-1.9-1.5-1.8-2-1.1-2-0.3-2 0.5-2 1.1-2 2-2 2.1-1.5 2.7-1.5 3.4-1.6 3.9-1.4 5.1-1.5 10.5-2.3 12.5-2 14.4-1.6 19.5-1.6M520 836.7l-17.5-1.5-14.2-1.7-11.8-2-10.5-2.5-4.7-1.5-3.8-1.5-3.1-1.5-2.5-1.5-1.9-1.5-1.7-2-0.8-1.5-0.3-2 0.5-2 0.9-1.5 1.9-2 2.1-1.5 2.7-1.5 3.3-1.5 7.5-2.5 10-2.3 11.5-1.9 13.9-1.6 18.5-1.6M520 835.6l-16-1.4-13.4-1.7-11.5-2-9-2.2-4.1-1.3-3.9-1.5-3.1-1.5-2.4-1.5-1.9-1.5-1.3-1.5-0.8-1.5-0.3-2 0.5-2 1-1.5 1.5-1.5 2-1.5 2.7-1.5 2.6-1.2 7.5-2.5 9.5-2.2 10.5-1.8 12.9-1.6 17-1.6M520 834.6l-15-1.5-12.1-1.6-10.8-2-8-2-7.1-2.5-4.9-2.5-1.9-1.5-1.5-1.5-0.8-1.5-0.4-1.5 0.2-1.5 0.7-1.5 1.3-1.5 1.8-1.5 2.5-1.5 2.1-1 7-2.6 8-2 10.4-1.9 12-1.6 16.5-1.7M520 833.5l-13.8-1.5-10.6-1.5-9.5-1.8-8-2-6.1-2.2-4.8-2.5-1.6-1.2-1.3-1.3-0.9-1.5-0.4-1.5 0.2-1.5 0.8-1.5 1.1-1.3 1.5-1.2 2-1.2 2.6-1.3 6.4-2.3 7.5-1.9 9.4-1.8 10.5-1.5 15-1.7M520 832.3l-11.3-1.3-10.1-1.5-8-1.5-7.7-2-5.6-2-2.7-1.3-2.1-1.2-1.4-1-1.4-1.5-0.6-1.1-0.3-1.4 0.2-1.5 0.5-1 1.1-1.3 1.4-1.2 2.1-1.3 2.5-1.2 5.5-2 7.5-1.9 8.1-1.6 9.9-1.5 12.4-1.5M520 831.1l-10-1.3-9-1.5-7.4-1.5-6.6-1.8-5.3-2-3.6-2-2.2-2-0.7-1-0.4-1.5 0.3-1.5 0.5-1 2.1-2 3.5-2 5.2-2 6.2-1.7 7.4-1.6 9-1.5 11-1.5M520 829.7l-8.7-1.2-8.3-1.5-6.5-1.5-5.1-1.5-3.8-1.5-3.6-2-1.2-1-0.8-1-0.6-1-0.2-1 0.2-1 0.4-1 0.8-1 1.2-1 3.3-1.9 3.9-1.6 5-1.5 6.4-1.5 8.2-1.5 9.4-1.4M520 828.3l-13.5-2.4-5.5-1.4-4.7-1.5-3.4-1.5-2.5-1.5-1.6-1.5-0.5-1-0.3-1 0.2-1 0.5-1 1.5-1.5 2.4-1.5 3.4-1.5 4.7-1.5 5.3-1.4 14-2.6M520 826.7l-10.3-2.2-4.2-1.2-3.7-1.3-2.3-1-2.3-1.5-1.4-1.5-0.5-1.5 0.4-1.5 1.4-1.5 1.9-1.3 2.6-1.2 3.4-1.3 4.3-1.2 10.7-2.3M520 824.8l-6.9-1.8-5.3-2-1.9-1-1.4-1-0.9-1-0.5-1.5 0.5-1.5 0.8-1 1.4-1 1.8-1 5.2-2 7.2-1.9M520 822.3l-3.6-1.3-2.9-1.5-1.6-1.5-0.6-1.5 0.5-1.5 1.6-1.5 2.8-1.5 3.8-1.5M520 817.3l-0.2-0.8 0.2-0.9"/>
<g transform="translate(472 692.4) rotate(-30)"><rect x="-11" y="-5.6" width="22" height="11.2" fill="#fff"/><text x="0" y="4.4" font-size="12.4" font-family="'Liberation Sans',sans-serif" text-anchor="middle" textLength="18.2" lengthAdjust="spacingAndGlyphs" stroke="#000" stroke-width="0.3" xml:space="preserve" >0.2</text></g>
<g transform="translate(405.1 774.2) rotate(-5)"><rect x="-11" y="-5.6" width="22" height="11.2" fill="#fff"/><text x="0" y="4.4" font-size="12.4" font-family="'Liberation Sans',sans-serif" text-anchor="middle" textLength="18.2" lengthAdjust="spacingAndGlyphs" stroke="#000" stroke-width="0.3" xml:space="preserve" >0.2</text></g>
<g transform="translate(420.1 792.3) rotate(-12)"><rect x="-11" y="-5.6" width="22" height="11.2" fill="#fff"/><text x="0" y="4.4" font-size="12.4" font-family="'Liberation Sans',sans-serif" text-anchor="middle" textLength="18.2" lengthAdjust="spacingAndGlyphs" stroke="#000" stroke-width="0.3" xml:space="preserve" >0.4</text></g>
<g transform="translate(425.8 817.5) rotate(38)"><rect x="-11" y="-5.6" width="22" height="11.2" fill="#fff"/><text x="0" y="4.4" font-size="12.4" font-family="'Liberation Sans',sans-serif" text-anchor="middle" textLength="18.2" lengthAdjust="spacingAndGlyphs" stroke="#000" stroke-width="0.3" xml:space="preserve" >0.6</text></g>
<g transform="translate(420.1 843.9) rotate(-8)"><rect x="-11" y="-5.6" width="22" height="11.2" fill="#fff"/><text x="0" y="4.4" font-size="12.4" font-family="'Liberation Sans',sans-serif" text-anchor="middle" textLength="18.2" lengthAdjust="spacingAndGlyphs" stroke="#000" stroke-width="0.3" xml:space="preserve" >0.4</text></g>
<g transform="translate(420.1 857.8) rotate(0)"><rect x="-11" y="-5.6" width="22" height="11.2" fill="#fff"/><text x="0" y="4.4" font-size="12.4" font-family="'Liberation Sans',sans-serif" text-anchor="middle" textLength="18.2" lengthAdjust="spacingAndGlyphs" stroke="#000" stroke-width="0.3" xml:space="preserve" >0.2</text></g>
<g transform="translate(333.8 823) rotate(77)"><rect x="-11" y="-5.6" width="22" height="11.2" fill="#fff"/><text x="0" y="4.4" font-size="12.4" font-family="'Liberation Sans',sans-serif" text-anchor="middle" textLength="18.2" lengthAdjust="spacingAndGlyphs" stroke="#000" stroke-width="0.3" xml:space="preserve" >0.2</text></g>
<rect x="495" y="766.2" width="22" height="10.3" fill="#fff"/><text x="496.6" y="775.9" font-size="12.4" font-family="'Liberation Sans',sans-serif" textLength="18.4" lengthAdjust="spacingAndGlyphs" stroke="#000" stroke-width="0.3" xml:space="preserve" >0.2</text>
<rect x="507" y="777" width="12" height="10.2" fill="#fff"/><text x="509.5" y="786.5" font-size="12.4" font-family="'Liberation Sans',sans-serif" stroke="#000" stroke-width="0.3" xml:space="preserve" >0.</text>
<rect x="508" y="788" width="11" height="10.5" fill="#fff"/><text x="510.8" y="797.6" font-size="12.4" font-family="'Liberation Sans',sans-serif" stroke="#000" stroke-width="0.3" xml:space="preserve" >0</text>
<circle cx="387.9" cy="897.3" r="2.3" fill="#f01010"/>
<rect x="300.2" y="680.2" width="219.8" height="219.79999999999995" fill="none" stroke="#000" stroke-width="1.8"/>
<path d="M300.2 672.7V680.2M300.2 900.0V907.5M307.5 676.2V680.2M307.5 900.0V904.0M314.9 676.2V680.2M314.9 900.0V904.0M322.2 676.2V680.2M322.2 900.0V904.0M329.5 676.2V680.2M329.5 900.0V904.0M336.8 672.7V680.2M336.8 900.0V907.5M344.2 676.2V680.2M344.2 900.0V904.0M351.5 676.2V680.2M351.5 900.0V904.0M358.8 676.2V680.2M358.8 900.0V904.0M366.1 676.2V680.2M366.1 900.0V904.0M373.5 672.7V680.2M373.5 900.0V907.5M380.8 676.2V680.2M380.8 900.0V904.0M388.1 676.2V680.2M388.1 900.0V904.0M395.4 676.2V680.2M395.4 900.0V904.0M402.8 676.2V680.2M402.8 900.0V904.0M410.1 672.7V680.2M410.1 900.0V907.5M417.4 676.2V680.2M417.4 900.0V904.0M424.8 676.2V680.2M424.8 900.0V904.0M432.1 676.2V680.2M432.1 900.0V904.0M439.4 676.2V680.2M439.4 900.0V904.0M446.7 672.7V680.2M446.7 900.0V907.5M454.1 676.2V680.2M454.1 900.0V904.0M461.4 676.2V680.2M461.4 900.0V904.0M468.7 676.2V680.2M468.7 900.0V904.0M476.0 676.2V680.2M476.0 900.0V904.0M483.4 672.7V680.2M483.4 900.0V907.5M490.7 676.2V680.2M490.7 900.0V904.0M498.0 676.2V680.2M498.0 900.0V904.0M505.3 676.2V680.2M505.3 900.0V904.0M512.7 676.2V680.2M512.7 900.0V904.0M520.0 672.7V680.2M520.0 900.0V907.5M292.7 680.2H300.2M520.0 680.2H527.5M296.2 692.4H300.2M520.0 692.4H524.0M296.2 704.6H300.2M520.0 704.6H524.0M292.7 716.8H300.2M520.0 716.8H527.5M296.2 729.0H300.2M520.0 729.0H524.0M296.2 741.3H300.2M520.0 741.3H524.0M292.7 753.5H300.2M520.0 753.5H527.5M296.2 765.7H300.2M520.0 765.7H524.0M296.2 777.9H300.2M520.0 777.9H524.0M292.7 790.1H300.2M520.0 790.1H527.5M296.2 802.3H300.2M520.0 802.3H524.0M296.2 814.5H300.2M520.0 814.5H524.0M292.7 826.7H300.2M520.0 826.7H527.5M296.2 838.9H300.2M520.0 838.9H524.0M296.2 851.2H300.2M520.0 851.2H524.0M292.7 863.4H300.2M520.0 863.4H527.5M296.2 875.6H300.2M520.0 875.6H524.0M296.2 887.8H300.2M520.0 887.8H524.0M292.7 900.0H300.2M520.0 900.0H527.5" stroke="#000" stroke-width="1" fill="none"/>
<text x="286.3" y="686.7" font-size="18.3" font-family="'Liberation Sans',sans-serif" text-anchor="end" stroke="#000" stroke-width="0.3" xml:space="preserve" >90</text>
<text x="286.3" y="723.3" font-size="18.3" font-family="'Liberation Sans',sans-serif" text-anchor="end" stroke="#000" stroke-width="0.3" xml:space="preserve" >60</text>
<text x="286.3" y="760.0" font-size="18.3" font-family="'Liberation Sans',sans-serif" text-anchor="end" stroke="#000" stroke-width="0.3" xml:space="preserve" >30</text>
<text x="286.3" y="796.6" font-size="18.3" font-family="'Liberation Sans',sans-serif" text-anchor="end" stroke="#000" stroke-width="0.3" xml:space="preserve" >0</text>
<text x="286.3" y="833.2" font-size="18.3" font-family="'Liberation Sans',sans-serif" text-anchor="end" stroke="#000" stroke-width="0.3" xml:space="preserve" >-30</text>
<text x="286.3" y="869.9" font-size="18.3" font-family="'Liberation Sans',sans-serif" text-anchor="end" stroke="#000" stroke-width="0.3" xml:space="preserve" >-60</text>
<text x="286.3" y="906.5" font-size="18.3" font-family="'Liberation Sans',sans-serif" text-anchor="end" stroke="#000" stroke-width="0.3" xml:space="preserve" >-90</text>
<text x="300.8" y="928" font-size="18.3" font-family="'Liberation Sans',sans-serif" text-anchor="middle" stroke="#000" stroke-width="0.3" xml:space="preserve" >0.0</text>
<text x="337.4" y="928" font-size="18.3" font-family="'Liberation Sans',sans-serif" text-anchor="middle" stroke="#000" stroke-width="0.3" xml:space="preserve" >0.5</text>
<text x="374.1" y="928" font-size="18.3" font-family="'Liberation Sans',sans-serif" text-anchor="middle" stroke="#000" stroke-width="0.3" xml:space="preserve" >1.0</text>
<text x="410.7" y="928" font-size="18.3" font-family="'Liberation Sans',sans-serif" text-anchor="middle" stroke="#000" stroke-width="0.3" xml:space="preserve" >1.5</text>
<text x="447.3" y="928" font-size="18.3" font-family="'Liberation Sans',sans-serif" text-anchor="middle" stroke="#000" stroke-width="0.3" xml:space="preserve" >2.0</text>
<text x="484.0" y="928" font-size="18.3" font-family="'Liberation Sans',sans-serif" text-anchor="middle" stroke="#000" stroke-width="0.3" xml:space="preserve" >2.5</text>
<text x="520.6" y="928" font-size="18.3" font-family="'Liberation Sans',sans-serif" text-anchor="middle" stroke="#000" stroke-width="0.3" xml:space="preserve" >3.0</text>
<text x="285.8" y="668.4" font-size="14.8" font-family="'Liberation Serif',serif" font-weight="bold" textLength="247.6" lengthAdjust="spacingAndGlyphs" stroke="#000" stroke-width="0.15" xml:space="preserve" >ϕ= -88. +/- 10.deg. δt= 1.20 +/-0.27s</text>
<text x="386.9" y="956.6" font-size="15" font-family="'Liberation Serif',serif" font-weight="bold" textLength="48.4" lengthAdjust="spacingAndGlyphs" stroke="#000" stroke-width="0.15" xml:space="preserve" >Lag (s)</text>
<g transform="translate(263.4 853.6) rotate(-90)"><text x="0" y="0" font-size="14.8" font-family="'Liberation Serif',serif" font-weight="bold" textLength="130" lengthAdjust="spacingAndGlyphs" stroke="#000" stroke-width="0.15" xml:space="preserve" >Azimuth (degrees)</text></g>
</g>
<text x="208.6" y="980.7" font-size="19.44" font-family="'Liberation Sans',sans-serif" stroke="#000" stroke-width="0.3" xml:space="preserve" >Ror= 6.49; Rot= 2.49; Rct= 1.40; Rct/Rot= 0.56</text>
</svg></body></html>
